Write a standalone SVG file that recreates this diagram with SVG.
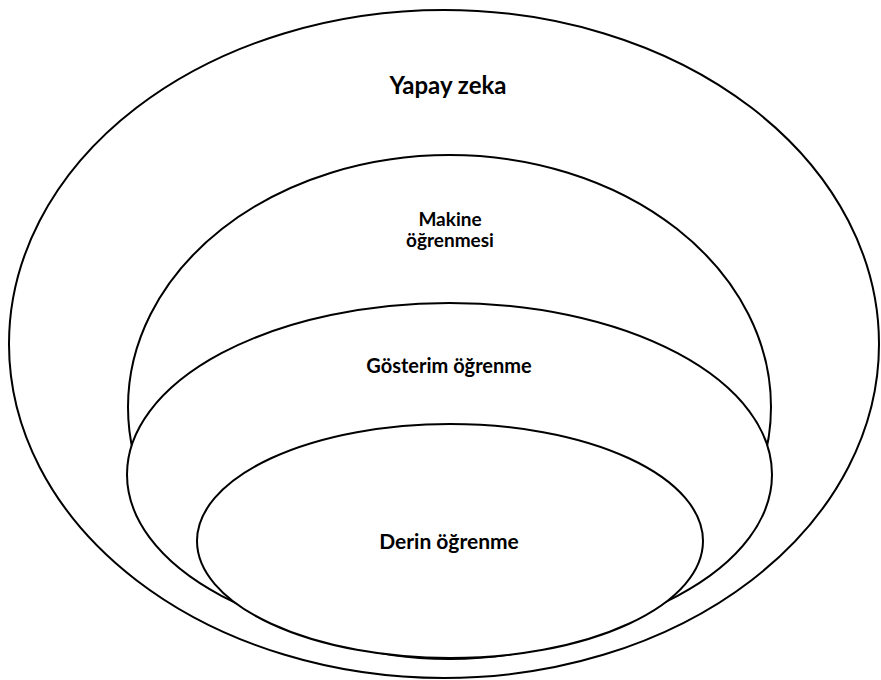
<svg xmlns="http://www.w3.org/2000/svg" width="881" height="680" viewBox="0 0 881 680">
  <style>
    .ring { fill: #ffffff; stroke: #000000; stroke-width: 2; }
    .label { font-family: Lato, "Open Sans", "Liberation Sans", sans-serif; font-weight: bold; fill: #000000; text-anchor: middle; }
  </style>
  <rect x="0" y="0" width="881" height="680" fill="#ffffff"/>
  <g id="yapay-zeka">
    <ellipse class="ring" cx="444" cy="344" rx="435" ry="334"/>
    <text class="label" x="448" y="94" font-size="24">Yapay zeka</text>
  </g>
  <g id="makine-ogrenmesi">
    <ellipse class="ring" cx="449.5" cy="407" rx="321.5" ry="252"/>
    <text class="label" x="450" y="226" font-size="19">Makine</text>
    <text class="label" x="450" y="247" font-size="19">öğrenmesi</text>
  </g>
  <g id="gosterim-ogrenme">
    <ellipse class="ring" cx="449.5" cy="474.5" rx="322.5" ry="171.5"/>
    <text class="label" x="449" y="373" font-size="20">Gösterim öğrenme</text>
  </g>
  <g id="derin-ogrenme">
    <ellipse class="ring" cx="450" cy="541" rx="253" ry="117"/>
    <text class="label" x="449" y="549" font-size="21">Derin öğrenme</text>
  </g>
  <g id="connectors"/>
</svg>
